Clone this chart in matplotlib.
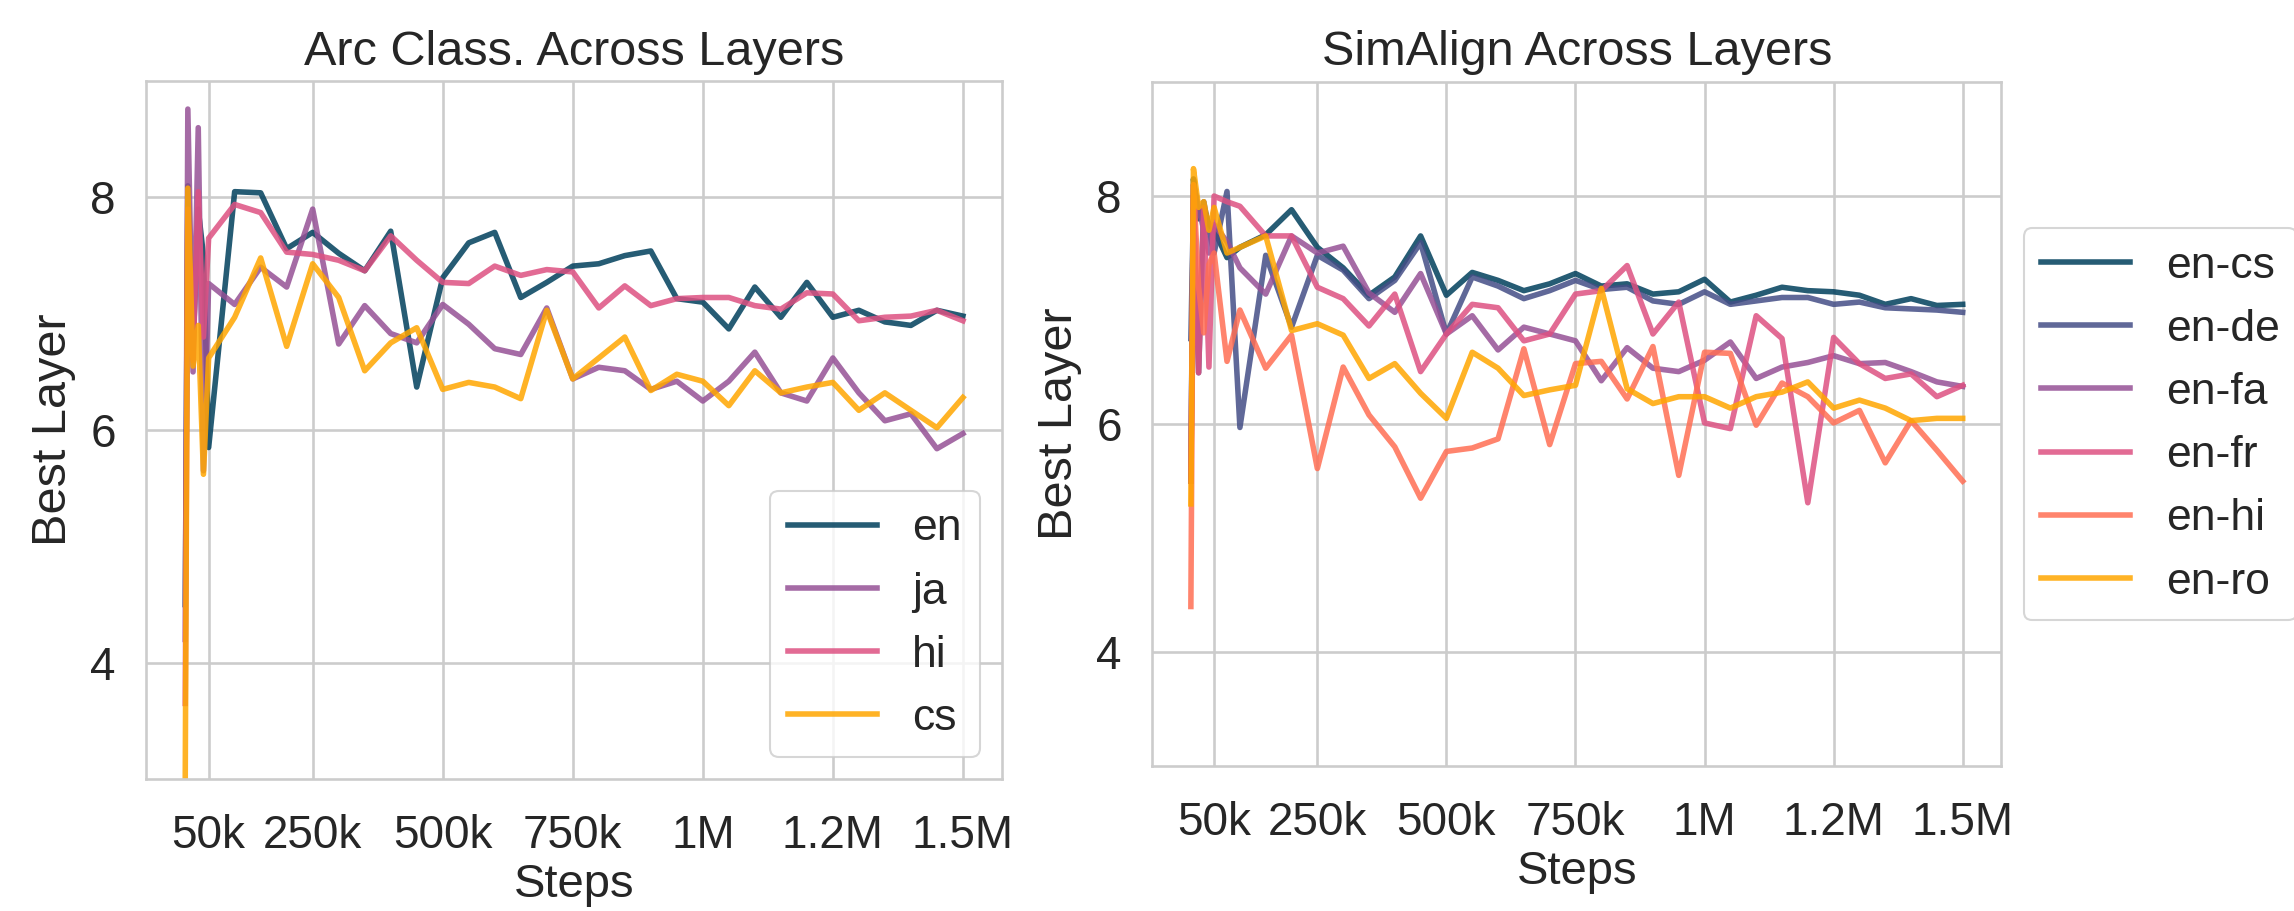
import matplotlib
matplotlib.use("Agg")
import matplotlib.pyplot as plt

# checkpoints (in steps)
arc_steps = [5000, 10000, 20000, 30000, 40000, 50000,
             100000, 150000, 200000, 250000, 300000, 350000, 400000, 450000,
             500000, 550000, 600000, 650000, 700000, 750000, 800000, 850000,
             900000, 950000, 1000000, 1050000, 1100000, 1150000, 1200000,
             1250000, 1300000, 1350000, 1400000, 1450000, 1500000]

sim_steps = [5000, 10000, 20000, 30000, 40000, 50000, 75000,
             100000, 150000, 200000, 250000, 300000, 350000, 400000, 450000,
             500000, 550000, 600000, 650000, 700000, 750000, 800000, 850000,
             900000, 950000, 1000000, 1050000, 1100000, 1150000, 1200000,
             1250000, 1300000, 1350000, 1400000, 1450000, 1500000]

# Arc classification, best layer per language
arc_en = [4.5, 8.1, 6.7, 7.9, 7.5, 5.85,
          8.05, 8.04, 7.56, 7.70, 7.52, 7.37, 7.71, 6.37, 7.31, 7.61, 7.70, 7.14,
          7.27, 7.41, 7.43, 7.50, 7.54, 7.13, 7.10, 6.87, 7.23, 6.97, 7.27, 6.97,
          7.03, 6.93, 6.90, 7.03, 6.98]
arc_ja = [4.2, 8.76, 6.5, 8.60, 5.65, 7.26,
          7.08, 7.40, 7.23, 7.90, 6.74, 7.07, 6.83, 6.75, 7.08, 6.91, 6.70, 6.65,
          7.05, 6.44, 6.54, 6.51, 6.35, 6.42, 6.25, 6.42, 6.67, 6.32, 6.25, 6.62,
          6.32, 6.08, 6.14, 5.84, 5.97]
arc_hi = [3.65, 7.9, 6.6, 8.05, 6.8, 7.65,
          7.94, 7.87, 7.53, 7.51, 7.46, 7.37, 7.67, 7.46, 7.27, 7.26, 7.41, 7.33,
          7.38, 7.36, 7.05, 7.24, 7.07, 7.13, 7.14, 7.14, 7.07, 7.04, 7.18, 7.17,
          6.94, 6.97, 6.98, 7.03, 6.94]
arc_cs = [3.0, 8.08, 6.55, 6.9, 5.62, 6.62,
          6.97, 7.48, 6.72, 7.43, 7.14, 6.51, 6.75, 6.88, 6.35, 6.41, 6.37, 6.27,
          7.03, 6.44, 6.62, 6.80, 6.34, 6.48, 6.42, 6.21, 6.51, 6.32, 6.37, 6.41,
          6.17, 6.32, 6.17, 6.02, 6.28]

# SimAlign, best layer per language pair
sim_en_cs = [5.5, 8.15, 7.8, 7.9, 7.75, 7.7, 7.46, 7.55,
             7.66, 7.88, 7.55, 7.37, 7.13, 7.29, 7.65, 7.13, 7.33, 7.26, 7.17,
             7.23, 7.32, 7.21, 7.23, 7.14, 7.16, 7.27, 7.07, 7.13, 7.20, 7.17,
             7.16, 7.13, 7.05, 7.10, 7.04, 7.05]
sim_en_de = [6.75, 7.9, 6.45, 7.95, 7.7, 7.5, 8.04, 5.97,
             7.48, 6.85, 7.48, 7.35, 7.10, 7.26, 7.59, 6.79, 7.29, 7.21, 7.10,
             7.17, 7.26, 7.18, 7.20, 7.08, 7.05, 7.16, 7.05, 7.08, 7.11, 7.11,
             7.05, 7.07, 7.02, 7.01, 7.00, 6.98]
sim_en_fa = [5.6, 8.1, 7.9, 7.7, 7.5, 7.75, 7.6, 7.37,
             7.14, 7.65, 7.50, 7.56, 7.15, 6.98, 7.32, 6.79, 6.95, 6.65, 6.85,
             6.79, 6.73, 6.38, 6.67, 6.49, 6.46, 6.56, 6.72, 6.40, 6.50, 6.54,
             6.60, 6.53, 6.54, 6.46, 6.37, 6.33]
sim_en_fr = [5.5, 8.0, 6.45, 7.9, 6.5, 8.0, 7.95, 7.91,
             7.65, 7.65, 7.20, 7.10, 6.86, 7.14, 6.46, 6.79, 7.05, 7.02, 6.73,
             6.79, 7.14, 7.17, 7.39, 6.79, 7.07, 6.01, 5.96, 6.95, 6.75, 5.31,
             6.76, 6.53, 6.40, 6.44, 6.24, 6.34]
sim_en_hi = [4.4, 8.1, 7.2, 6.8, 7.4, 7.5, 6.55, 7.0,
             6.49, 6.78, 5.61, 6.50, 6.08, 5.80, 5.35, 5.76, 5.79, 5.87, 6.66,
             5.82, 6.53, 6.55, 6.22, 6.68, 5.55, 6.63, 6.62, 5.99, 6.36, 6.24,
             6.01, 6.12, 5.66, 6.03, 5.77, 5.50]
sim_en_ro = [5.3, 8.24, 7.9, 7.95, 7.7, 7.9, 7.5, 7.55,
             7.65, 6.82, 6.88, 6.78, 6.40, 6.53, 6.27, 6.05, 6.63, 6.49, 6.25,
             6.30, 6.34, 7.19, 6.31, 6.18, 6.24, 6.24, 6.14, 6.24, 6.28, 6.37,
             6.14, 6.21, 6.14, 6.03, 6.05, 6.05]

tick_pos = [50000, 250000, 500000, 750000, 1000000, 1250000, 1500000]
tick_labels = ["50k", "250k", "500k", "750k", "1M", "1.2M", "1.5M"]

palette = ["#003f5c", "#444e86", "#955196", "#dd5182", "#ff6e54", "#ffa600"]

plt.rcParams["font.family"] = ["Liberation Sans", "DejaVu Sans"]
plt.rcParams["text.color"] = "#262626"
plt.rcParams["axes.labelcolor"] = "#262626"
plt.rcParams["xtick.color"] = "#262626"
plt.rcParams["ytick.color"] = "#262626"

fig = plt.figure(figsize=(22.94, 9.11), dpi=100)
ax1 = fig.add_axes([0.0638, 0.1449, 0.3729, 0.766])
ax2 = fig.add_axes([0.5023, 0.159, 0.3701, 0.751])

LW = 4.0
ALPHA = 0.85

ax1.plot(arc_steps, arc_en, color=palette[0], lw=LW, alpha=ALPHA, label="en")
ax1.plot(arc_steps, arc_ja, color=palette[2], lw=LW, alpha=ALPHA, label="ja")
ax1.plot(arc_steps, arc_hi, color=palette[3], lw=LW, alpha=ALPHA, label="hi")
ax1.plot(arc_steps, arc_cs, color=palette[5], lw=LW, alpha=ALPHA, label="cs")

sim_series = [("en-cs", sim_en_cs), ("en-de", sim_en_de), ("en-fa", sim_en_fa),
              ("en-fr", sim_en_fr), ("en-hi", sim_en_hi), ("en-ro", sim_en_ro)]
for i, (name, vals) in enumerate(sim_series):
    ax2.plot(sim_steps, vals, color=palette[i], lw=LW, alpha=ALPHA, label=name)

for ax, title in [(ax1, "Arc Class. Across Layers"), (ax2, "SimAlign Across Layers")]:
    ax.set_facecolor("white")
    ax.set_ylim(3, 9)
    ax.set_yticks([4, 6, 8])
    ax.set_xticks(tick_pos)
    ax.set_xticklabels(tick_labels)
    ax.grid(True, color="#cccccc", linewidth=1.9)
    ax.set_axisbelow(True)
    for sp in ax.spines.values():
        sp.set_color("#cccccc")
        sp.set_linewidth(1.9)
    ax.tick_params(axis="both", length=0, labelsize=33, pad=22)
    ax.tick_params(axis="x", pad=25)
    ax.set_title(title, fontsize=35, pad=12)
    ax.set_xlabel("Steps", fontsize=34, labelpad=4)
    ax.set_ylabel("Best Layer", fontsize=35, labelpad=10)

leg1 = ax1.legend(loc="lower right", fontsize=32, frameon=True, fancybox=True,
                  handlelength=2.0)
leg2 = ax2.legend(loc="center left", bbox_to_anchor=(1.0, 0.5), fontsize=32,
                  frameon=True, fancybox=True, handlelength=2.0)
for leg in (leg1, leg2):
    leg.get_frame().set_edgecolor("#cccccc")
    leg.get_frame().set_linewidth(1.5)

fig.savefig("out.png", dpi=100, facecolor="white")
